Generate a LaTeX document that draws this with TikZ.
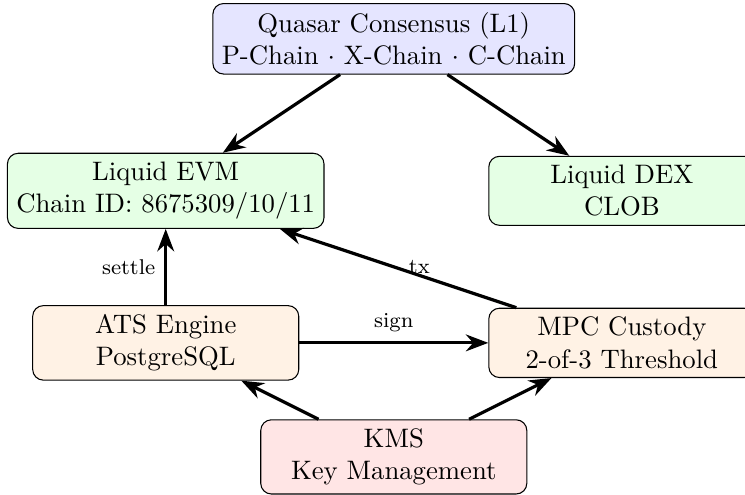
\documentclass[tikz,border=0pt]{standalone}
\usetikzlibrary{positioning,arrows.meta}

\tikzset{
  box/.style={draw, thin, rounded corners, align=center, minimum width=3.5cm},
  lbl/.style={font=\footnotesize}
}

\begin{document}
\begin{tikzpicture}[>=Stealth, very thick]
  % 画布范围
  \useasboundingbox (-5.18,-6.0) rectangle (4.62,0.51);

  % 节点
  \node[box, fill=blue!10] (quasar) at (0,0)
       {Quasar Consensus (L1)\\P-Chain $\cdot$ X-Chain $\cdot$ C-Chain};
  \node[box, fill=green!10] (evm) at (-3,-2)
       {Liquid EVM\\Chain ID: 8675309/10/11};
  \node[box, fill=green!10] (dex) at (3,-2)
       {Liquid DEX\\CLOB};
  \node[box, fill=orange!10] (ats) at (-3,-4)
       {ATS Engine\\PostgreSQL};
  \node[box, fill=orange!10] (mpc) at (3,-4)
       {MPC Custody\\2-of-3 Threshold};
  \node[box, fill=red!10] (kms) at (0,-5.5)
       {KMS\\Key Management};

  % 连线
  \draw[->] (quasar) -- (evm);
  \draw[->] (quasar) -- (dex);
  \draw[->] (ats) -- node[midway, left, lbl] {settle} (evm);
  \draw[->] (ats) -- node[midway, above, lbl] {sign} (mpc);
  \draw[->] (mpc) -- node[pos=0.41, above, inner sep=0pt, lbl] {tx} (evm);
  \draw[->] (kms) -- (ats);
  \draw[->] (kms) -- (mpc);
\end{tikzpicture}
\end{document}
